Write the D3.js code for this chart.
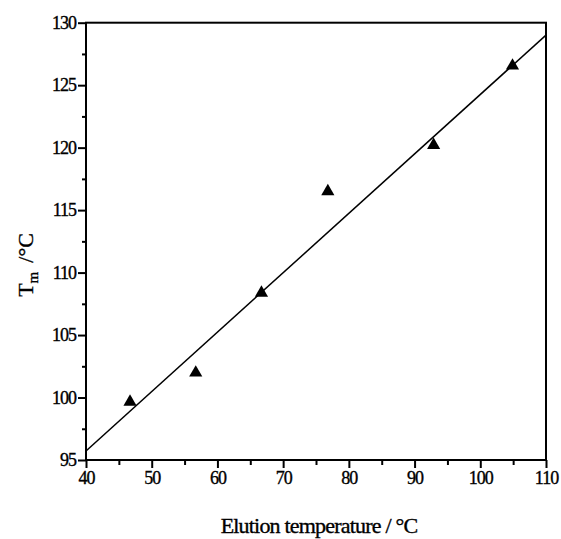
<!DOCTYPE html>
<html><head><meta charset="utf-8">
<script src="https://cdn.jsdelivr.net/npm/d3@7"></script>
<style>body{margin:0;background:#fff}svg{display:block}svg text{font-family:"Liberation Serif","Times New Roman",serif !important;fill:#000;stroke:#000;stroke-width:0.35px}</style>
</head><body>
<script>
const elutionTemp = [46.7, 56.7, 66.7, 76.8, 92.9, 104.9];
const tm = [99.65, 101.98, 108.37, 116.5, 120.2, 126.55];
const fitX = [40, 110];
const fitY = [95.72, 129.01];
const xTicks = [40, 50, 60, 70, 80, 90, 100, 110];
const yTicks = [95, 100, 105, 110, 115, 120, 125, 130];

const W = 561, H = 539;
const m = {left: 86, right: 546, top: 22.7, bottom: 460};
const svg = d3.select("body").append("svg").attr("width", W).attr("height", H);
const x = d3.scaleLinear().domain([40, 110]).range([m.left, m.right]);
const y = d3.scaleLinear().domain([95, 130]).range([m.bottom, m.top]);

// frame
svg.append("rect").attr("x", m.left).attr("y", m.top).attr("width", m.right - m.left).attr("height", m.bottom - m.top)
  .attr("fill", "none").attr("stroke", "#000").attr("stroke-width", 2);

// x axis
const xa = svg.append("g").attr("transform", `translate(0,${m.bottom})`)
  .call(d3.axisBottom(x).tickValues(xTicks).tickSize(8).tickPadding(3).tickFormat(d3.format("d")));
const xm = svg.append("g").attr("transform", `translate(0,${m.bottom})`)
  .call(d3.axisBottom(x).tickValues(d3.range(45, 110, 10)).tickSize(5).tickFormat(""));
// y axis
const ya = svg.append("g").attr("transform", `translate(${m.left},0)`)
  .call(d3.axisLeft(y).tickValues(yTicks).tickSize(8).tickPadding(2).tickFormat(d3.format("d")));
const ym = svg.append("g").attr("transform", `translate(${m.left},0)`)
  .call(d3.axisLeft(y).tickValues(d3.range(97.5, 130, 5)).tickSize(4).tickFormat(""));
[xa, xm, ya, ym].forEach(g => {
  g.attr("font-family", "Liberation Serif").attr("font-size", 18);
  g.select(".domain").remove();
  g.selectAll("line").attr("stroke", "#000").attr("stroke-width", 2);
  g.selectAll("text").attr("font-size", 18).attr("letter-spacing", -1).attr("fill", "#000");
});

// fit line
svg.append("line").attr("x1", x(fitX[0])).attr("y1", y(fitY[0])).attr("x2", x(fitX[1])).attr("y2", y(fitY[1]))
  .attr("stroke", "#000").attr("stroke-width", 1.5);

// points
const tri = d3.symbol().type(d3.symbolTriangle).size(75);
svg.selectAll("path.pt").data(elutionTemp).join("path").attr("class", "pt")
  .attr("d", tri).attr("transform", (d, i) => `translate(${x(d)},${y(tm[i])})`).attr("fill", "#000");

// labels
svg.append("text").attr("x", 319).attr("y", 533).attr("text-anchor", "middle").attr("font-size", 22)
  .attr("letter-spacing", -0.8).text("Elution temperature / °C");
const yl = svg.append("text").attr("transform", "translate(33,265) rotate(-90)").attr("text-anchor", "middle").attr("font-size", 22);
yl.append("tspan").text("T");
yl.append("tspan").attr("font-size", 15).attr("dy", 5).text("m");
yl.append("tspan").attr("dy", -5).attr("dx", 9).text("/°C");
</script>
</body></html>
